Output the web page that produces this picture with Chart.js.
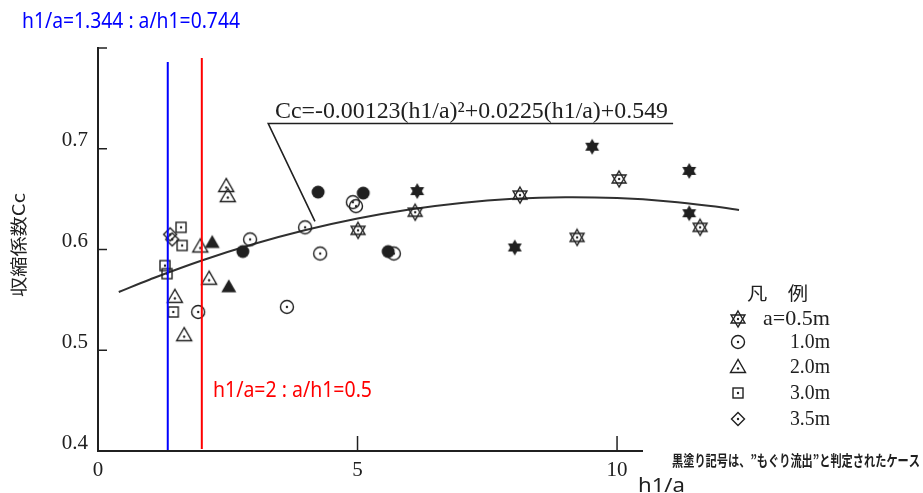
<!DOCTYPE html>
<html>
<head>
<meta charset="utf-8">
<script src="https://cdn.jsdelivr.net/npm/chart.js@4.4.0/dist/chart.umd.min.js"></script>
<style>
html, body { margin: 0; padding: 0; background: #fff; }
</style>
</head>
<body>
<canvas id="cc" width="923" height="493"></canvas>
<script>
const star05Open = [[5.01, 0.619], [6.11, 0.637], [8.13, 0.654], [10.04, 0.670], [9.23, 0.612], [11.6, 0.622]];
const star05Filled = [[9.52, 0.702], [6.15, 0.658], [8.03, 0.602], [11.39, 0.678], [11.39, 0.636]];
const circ10Open = [[3.99, 0.622], [4.28, 0.596], [3.64, 0.543], [4.91, 0.647], [4.97, 0.643], [5.70, 0.596], [2.93, 0.610], [1.93, 0.538]];
const circ10Filled = [[4.24, 0.657], [5.11, 0.656], [5.59, 0.598], [2.79, 0.598]];
const tri20Open = [[2.47, 0.663], [2.50, 0.653], [1.97, 0.603], [2.14, 0.571], [1.48, 0.553], [1.66, 0.515]];
const tri20Filled = [[2.20, 0.607], [2.52, 0.563]];
const sq30 = [[1.60, 0.622], [1.62, 0.604], [1.29, 0.584], [1.33, 0.576], [1.45, 0.538]];
const dia35 = [[1.39, 0.615], [1.43, 0.610]];

// fitted curve printed on the figure: Cc = a(h1/a)^2 + b(h1/a) + c
const fitA = -0.00123, fitB = 0.0225, fitC = 0.549;
const curveX = [0.4, 1, 2, 3, 4, 5, 6, 7, 8, 9, 10, 11, 12, 12.35];

// marked h1/a values
const blueX = 1.344;
const redX = 2;

const xTicks = [0, 5, 10];
const yTicks = [0.4, 0.5, 0.6, 0.7];
const legendLabels = ['a=0.5m', '1.0m', '2.0m', '3.0m', '3.5m'];

const ink = '#202020';
const serif = '"Liberation Serif", "DejaVu Serif", serif';
const cjk = '"Noto Sans CJK JP", "Noto Sans", sans-serif';

function marker(kind, filled) {
  const c = document.createElement('canvas');
  c.width = c.height = 20;
  const g = c.getContext('2d');
  const m = 10;
  g.strokeStyle = ink; g.fillStyle = ink; g.lineWidth = 1.4;
  const dot = () => { g.beginPath(); g.arc(m, m, 1.2, 0, Math.PI * 2); g.fill(); };
  if (kind === 'star') {
    const r = 8;
    [-90, 90].forEach(a0 => {
      g.beginPath();
      for (let k = 0; k < 3; k++) {
        const a = (a0 + k * 120) * Math.PI / 180;
        const px = m + r * Math.cos(a), py = m + r * Math.sin(a);
        k ? g.lineTo(px, py) : g.moveTo(px, py);
      }
      g.closePath();
      filled ? g.fill() : g.stroke();
    });
    if (!filled) dot();
  } else if (kind === 'circle') {
    g.beginPath(); g.arc(m, m, filled ? 6.5 : 6.5, 0, Math.PI * 2);
    if (filled) g.fill(); else { g.stroke(); dot(); }
  } else if (kind === 'tri') {
    g.beginPath(); g.moveTo(m, m - 7.5); g.lineTo(m - 7.5, m + 5.5); g.lineTo(m + 7.5, m + 5.5); g.closePath();
    if (filled) g.fill(); else { g.stroke(); g.beginPath(); g.arc(m, m + 1.5, 1.2, 0, Math.PI * 2); g.fill(); }
  } else if (kind === 'square') {
    g.strokeRect(m - 5, m - 5, 10, 10); dot();
  } else if (kind === 'diamond') {
    g.beginPath(); g.moveTo(m, m - 6.5); g.lineTo(m + 6.5, m); g.lineTo(m, m + 6.5); g.lineTo(m - 6.5, m); g.closePath();
    g.stroke(); dot();
  }
  return c;
}

const mk = {
  starO: marker('star', false), starF: marker('star', true),
  circO: marker('circle', false), circF: marker('circle', true),
  triO: marker('tri', false), triF: marker('tri', true),
  sq: marker('square', false), dia: marker('diamond', false)
};

const pts = arr => arr.map(p => ({ x: p[0], y: p[1] }));
const scatterSet = (arr, style) => ({ data: pts(arr), pointStyle: style, pointRadius: 8, showLine: false });

function fitText(g, txt, x, y, w, font, color, align) {
  g.save();
  g.font = font; g.fillStyle = color; g.textBaseline = 'middle'; g.textAlign = align || 'left';
  const sx = w / g.measureText(txt).width;
  g.translate(x, y); g.scale(sx, 1);
  g.fillText(txt, 0, 0);
  g.restore();
}

const decor = {
  id: 'decor',
  afterDraw(chart) {
    const g = chart.ctx;
    const xs = chart.scales.x, ys = chart.scales.y;
    const X = v => xs.getPixelForValue(v), Y = v => ys.getPixelForValue(v);
    g.save();
    g.strokeStyle = ink; g.lineWidth = 2;
    // x axis line (scan stops just past 10)
    g.beginPath(); g.moveTo(X(0) - 1, Y(0.4)); g.lineTo(X(10.5), Y(0.4)); g.stroke();
    // inward ticks
    g.lineWidth = 1.5;
    [0.5, 0.6, 0.7, 0.8].forEach(v => { g.beginPath(); g.moveTo(X(0), Y(v)); g.lineTo(X(0) + 9, Y(v)); g.stroke(); });
    [5, 10].forEach(v => { g.beginPath(); g.moveTo(X(v), Y(0.4)); g.lineTo(X(v), Y(0.4) - 15); g.stroke(); });
    // leader line of the fitted equation
    g.lineWidth = 1.6;
    g.beginPath();
    g.moveTo(X(11.08), Y(0.725)); g.lineTo(X(3.28), Y(0.725)); g.lineTo(X(4.18), Y(0.628));
    g.stroke();
    g.restore();

    fitText(g, 'Cc=-0.00123(h1/a)²+0.0225(h1/a)+0.549', 275, 112, 393, '23px ' + serif, ink);
    fitText(g, 'h1/a=1.344 : a/h1=0.744', 22, 22, 218, '22px "Noto Sans", sans-serif', '#0000ff');
    fitText(g, 'h1/a=2 : a/h1=0.5', 213, 391, 159, '21px "Noto Sans", sans-serif', '#ff0000');
    fitText(g, 'h1/a', 638, 486, 47, '20px "Noto Sans", sans-serif', ink);
    fitText(g, '黒塗り記号は、”もぐり流出”と判定されたケース', 672, 460, 248, 'bold 15px ' + cjk, ink);

    g.save();
    g.translate(19, 245); g.rotate(-Math.PI / 2);
    fitText(g, '収縮係数Cc', 0, 0, 104, '17px ' + cjk, ink, 'center');
    g.restore();

    // legend
    fitText(g, '凡　例', 747, 293, 61, '18px ' + cjk, ink);
    const legendMarks = [mk.starO, mk.circO, mk.triO, mk.sq, mk.dia];
    const legendY = [319, 342, 367, 393, 419];
    const legendW = [67, 40, 40, 40, 40];
    legendLabels.forEach((t, i) => {
      g.drawImage(legendMarks[i], 738 - 10, legendY[i] - 10);
      fitText(g, t, 830, legendY[i], legendW[i], '21px ' + serif, ink, 'right');
    });
  }
};

new Chart(document.getElementById('cc'), {
  type: 'scatter',
  data: {
    datasets: [
      { data: pts([[blueX, 0.4], [blueX, 0.786]]), showLine: true, borderColor: '#0000ff', borderWidth: 2, pointRadius: 0 },
      { data: pts([[redX, 0.402], [redX, 0.79]]), showLine: true, borderColor: '#ff0000', borderWidth: 2, pointRadius: 0 },
      scatterSet(star05Open, mk.starO),
      scatterSet(star05Filled, mk.starF),
      scatterSet(circ10Open, mk.circO),
      scatterSet(circ10Filled, mk.circF),
      scatterSet(tri20Open, mk.triO),
      scatterSet(tri20Filled, mk.triF),
      scatterSet(sq30, mk.sq),
      scatterSet(dia35, mk.dia),
      {
        data: curveX.map(x => ({ x: x, y: fitA * x * x + fitB * x + fitC })),
        showLine: true, borderColor: '#303030', borderWidth: 2, pointRadius: 0, tension: 0.4
      }
    ]
  },
  options: {
    responsive: false,
    devicePixelRatio: 1,
    animation: false,
    layout: { padding: { top: 48, right: 171, left: 0, bottom: 0 } },
    plugins: { legend: { display: false }, tooltip: { enabled: false } },
    scales: {
      x: {
        type: 'linear', min: 0, max: 12.6,
        grid: { display: false, drawTicks: false },
        border: { display: false },
        afterFit: s => { s.height = 42; },
        afterBuildTicks: s => { s.ticks = xTicks.map(v => ({ value: v })); },
        ticks: { padding: 7, color: ink, font: { family: serif, size: 21 } }
      },
      y: {
        min: 0.4, max: 0.8,
        grid: { display: false, drawTicks: false },
        border: { display: true, color: ink, width: 2 },
        afterFit: s => { s.width = 98; },
        afterBuildTicks: s => { s.ticks = yTicks.map(v => ({ value: v })); },
        ticks: { padding: 10, labelOffset: -8, color: ink, font: { family: serif, size: 21 }, callback: v => v.toFixed(1) }
      }
    }
  },
  plugins: [decor]
});
</script>
</body>
</html>
